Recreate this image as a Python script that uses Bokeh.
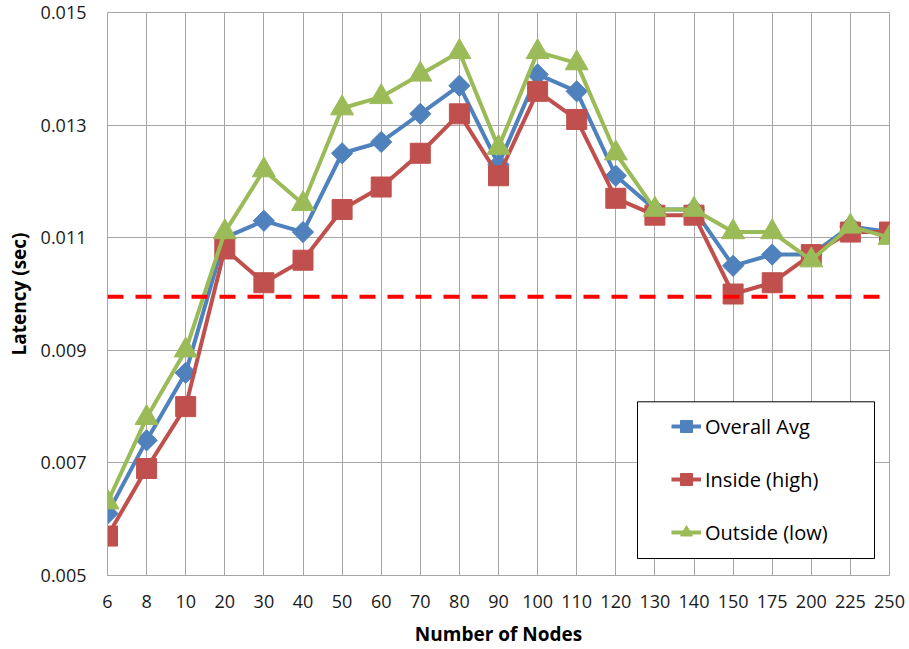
import math
from bokeh.plotting import figure
from bokeh.models import (Range1d, FixedTicker, Span, BoxAnnotation, Legend, LegendItem)
from bokeh.embed import file_html
from bokeh.resources import INLINE

# ---- data ----
nodes = ["6", "8", "10", "20", "30", "40", "50", "60", "70", "80", "90",
         "100", "110", "120", "130", "140", "150", "175", "200", "225", "250"]
overall_avg = [0.0061, 0.0074, 0.0086, 0.0110, 0.0113, 0.0111, 0.0125, 0.0127,
               0.0132, 0.0137, 0.0123, 0.0139, 0.0136, 0.0121, 0.0115, 0.0115,
               0.0105, 0.0107, 0.0107, 0.0112, 0.0111]
inside_high = [0.0057, 0.0069, 0.0080, 0.0108, 0.0102, 0.0106, 0.0115, 0.0119,
               0.0125, 0.0132, 0.0121, 0.0136, 0.0131, 0.0117, 0.0114, 0.0114,
               0.0100, 0.0102, 0.0107, 0.0111, 0.0111]
outside_low = [0.0063, 0.0078, 0.0090, 0.0111, 0.0122, 0.0116, 0.0133, 0.0135,
               0.0139, 0.0143, 0.0126, 0.0143, 0.0141, 0.0125, 0.0115, 0.0115,
               0.0111, 0.0111, 0.0106, 0.0112, 0.0110]
threshold = 0.00995
y_ticks = [0.005, 0.007, 0.009, 0.011, 0.013, 0.015]
series_names = ["Overall Avg", "Inside (high)", "Outside (low)"]

# ---- layout constants ----
W, H = 909, 649
FL, FR, FT, FB = 107, 889, 12, 576   # frame edges in px
FONT = "Open Sans"
GRID = "#a6a6a6"
xs = list(range(len(nodes)))

p = figure(width=W, height=H, output_backend="svg", toolbar_location=None,
           x_range=Range1d(0, len(nodes) - 1), y_range=Range1d(y_ticks[0], y_ticks[-1]),
           min_border_left=FL, min_border_right=W - FR, min_border_top=FT,
           min_border_bottom=H - FB)
p.outline_line_color = GRID
p.outline_line_width = 1
p.background_fill_color = "white"
p.border_fill_color = "white"

# axes
p.xaxis.ticker = FixedTicker(ticks=xs)
p.xaxis.major_label_overrides = {i: s for i, s in enumerate(nodes)}
p.yaxis.ticker = FixedTicker(ticks=y_ticks)
p.yaxis.major_label_overrides = {t: f"{t:.3f}" for t in y_ticks}
for ax in (p.xaxis[0], p.yaxis[0]):
    ax.major_tick_line_color = None
    ax.minor_tick_line_color = None
    ax.major_tick_out = 0
    ax.major_tick_in = 0
    ax.axis_line_color = GRID
    ax.major_label_text_font = FONT
    ax.major_label_text_font_size = "18px"
    ax.major_label_text_color = "#1a1a1a"
    ax.axis_label_text_font = FONT
    ax.axis_label_text_font_size = "19px"
    ax.axis_label_text_font_style = "bold"
    ax.axis_label_text_color = "#000000"
p.xaxis.major_label_standoff = 19
p.yaxis.major_label_standoff = 21
p.xaxis.axis_label = "Number of Nodes"
p.yaxis.axis_label = "Latency (sec)"
p.xaxis.axis_label_standoff = 10
p.yaxis.axis_label_standoff = 6

p.xgrid.ticker = FixedTicker(ticks=xs)
p.ygrid.ticker = FixedTicker(ticks=y_ticks)
for g in (p.xgrid[0], p.ygrid[0]):
    g.grid_line_color = GRID
    g.grid_line_width = 1

# threshold line
p.add_layout(Span(location=threshold, dimension="width", line_color="#FF0000",
                  line_width=4, line_dash="16 12"))

# series
colors = ["#4F81BD", "#C0504D", "#9BBB59"]
series = [overall_avg, inside_high, outside_low]
markers = [("square", 15, math.pi / 4), ("square", 20, 0), ("triangle", 23, 0)]
items = []
for name, ys, col, (mk, sz, ang) in zip(series_names, series, colors, markers):
    lr = p.line(xs, ys, line_color=col, line_width=4)
    sr = p.scatter(xs, ys, marker=mk, size=sz, angle=ang, fill_color=col,
                   line_color=col, line_width=1)
    items.append(LegendItem(label=name, renderers=[lr, sr]))

# legend box (drawn separately for Excel-like padding)
xpx = (len(nodes) - 1) / (FR - FL)
ypx = (y_ticks[-1] - y_ticks[0]) / (FB - FT)
box_l, box_r, box_t, box_b = 637, 874, 402, 559
p.add_layout(BoxAnnotation(left=(box_l - FL) * xpx, right=(box_r - FL) * xpx,
                           top=y_ticks[-1] - (box_t - FT) * ypx,
                           bottom=y_ticks[-1] - (box_b - FT) * ypx,
                           fill_color="white", fill_alpha=1.0,
                           line_color="#000000", line_width=1, line_alpha=1.0))

legend = Legend(items=items, location=(661 - FL, FB - box_b),
                padding=10, spacing=21, label_height=32, glyph_height=32,
                glyph_width=30, label_standoff=4, margin=0,
                border_line_alpha=0, background_fill_alpha=0,
                label_text_font=FONT, label_text_font_size="20px",
                label_text_color="#000000")
p.add_layout(legend, "center")

open("out.html", "w").write(file_html(p, INLINE))
